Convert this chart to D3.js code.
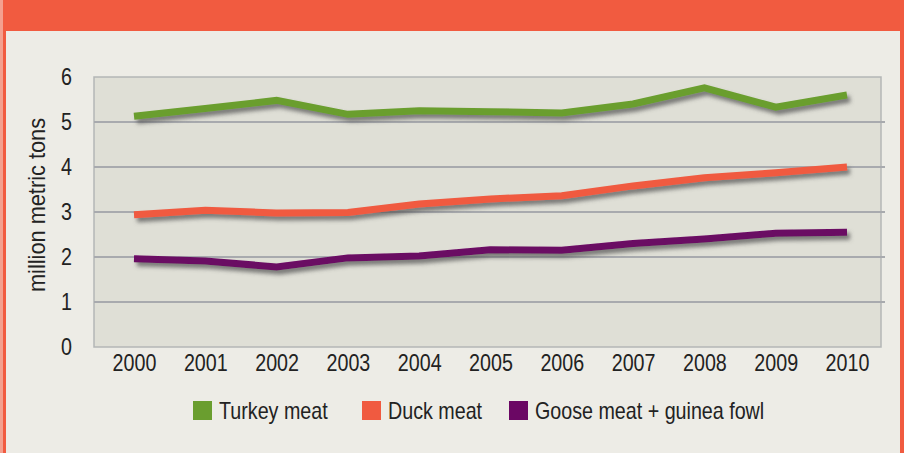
<!DOCTYPE html>
<html><head><meta charset="utf-8">
<script src="https://cdn.jsdelivr.net/npm/d3@7"></script>
<style>html,body{margin:0;padding:0;background:#edece6;}svg{display:block;}</style>
</head><body>
<script>
const years = [2000,2001,2002,2003,2004,2005,2006,2007,2008,2009,2010];
const turkey = [5.13,5.30,5.48,5.17,5.25,5.23,5.20,5.40,5.76,5.33,5.60];
const duck   = [2.94,3.04,2.98,2.99,3.18,3.29,3.36,3.58,3.76,3.87,4.00];
const goose  = [1.96,1.91,1.78,1.98,2.02,2.16,2.15,2.30,2.40,2.53,2.55];
const seriesNames = ["Turkey meat","Duck meat","Goose meat + guinea fowl"];
const yTicks = [0,1,2,3,4,5,6];
const colors = ["#6a9e2f","#f05a40","#6b0764"];
const seriesData = [turkey, duck, goose];

const W = 904, H = 453;
const svg = d3.select("body").append("svg").attr("width", W).attr("height", H);
const font = "'Liberation Sans', Arial, sans-serif";
function squeeze(sel, k){
  sel.each(function(){
    const w = this.getComputedTextLength();
    d3.select(this).attr("textLength", w*k).attr("lengthAdjust","spacingAndGlyphs");
  });
}

// frame
svg.append("rect").attr("x",0).attr("y",0).attr("width",W).attr("height",H).attr("fill","#edece6");
svg.append("rect").attr("x",0).attr("y",0).attr("width",W).attr("height",31).attr("fill","#f15b40");
svg.append("rect").attr("x",0).attr("y",0).attr("width",3).attr("height",H).attr("fill","#f4a08f");
svg.append("rect").attr("x",3).attr("y",0).attr("width",3).attr("height",H).attr("fill","#f15b40");
svg.append("rect").attr("x",900).attr("y",0).attr("width",4).attr("height",H).attr("fill","#f15b40");

const defs = svg.append("defs");
const f = defs.append("filter").attr("id","sh").attr("x","-10%").attr("y","-50%").attr("width","120%").attr("height","200%");
f.append("feDropShadow").attr("dx",3).attr("dy",4).attr("stdDeviation",2.2).attr("flood-color","#555").attr("flood-opacity",0.75);

const plot = {l:94, r:881, t:77, b:347};
svg.append("rect").attr("x",plot.l).attr("y",plot.t).attr("width",plot.r-plot.l).attr("height",plot.b-plot.t)
  .attr("fill","#dfdfd6").attr("stroke","#b4b6b6").attr("stroke-width",1.5);

const x = d3.scalePoint().domain(years).range([134, 847]);
const y = d3.scaleLinear().domain([0,6]).range([plot.b, plot.t]);

// gridlines
svg.append("g").selectAll("line").data(yTicks.filter(d=>d>0 && d<6)).join("line")
  .attr("x1",plot.l).attr("x2",885).attr("y1",d=>y(d)).attr("y2",d=>y(d))
  .attr("stroke","#a8aaae").attr("stroke-width",2);

// y axis
const ya = svg.append("g").attr("transform",`translate(${plot.l},0)`)
  .call(d3.axisLeft(y).tickValues(yTicks).tickSize(0).tickPadding(22).tickFormat(d3.format("d")));
ya.select(".domain").remove();
ya.selectAll("text").attr("font-family",font).attr("font-size",24).attr("fill","#222").call(squeeze,0.82);

// x axis
const xa = svg.append("g").attr("transform",`translate(0,${plot.b})`)
  .call(d3.axisBottom(x).tickSize(0).tickPadding(7).tickFormat(d3.format("d")));
xa.select(".domain").remove();
xa.selectAll("text").attr("font-family",font).attr("font-size",24).attr("fill","#222").call(squeeze,0.82);

// y label
svg.append("text").attr("transform","translate(45,205) rotate(-90)").attr("text-anchor","middle")
  .attr("font-family",font).attr("font-size",24).attr("fill","#222")
  .attr("textLength",174).attr("lengthAdjust","spacingAndGlyphs").text("million metric tons");

// lines
const line = d3.line().x((d,i)=>x(years[i])).y(d=>y(d));
svg.append("g").attr("filter","url(#sh)").selectAll("path").data(seriesData).join("path")
  .attr("d",line).attr("fill","none").attr("stroke",(d,i)=>colors[i]).attr("stroke-width",7)
  .attr("stroke-linejoin","miter").attr("stroke-linecap","butt");

// legend
const legX = [193, 362, 509];
const lg = svg.append("g");
seriesNames.forEach((n,i)=>{
  lg.append("rect").attr("x",legX[i]).attr("y",401).attr("width",19).attr("height",19).attr("fill",colors[i]);
  lg.append("text").attr("x",legX[i]+26).attr("y",419).attr("font-family",font).attr("font-size",24).attr("fill","#222").text(n).call(squeeze,0.82);
});
</script>
</body></html>
